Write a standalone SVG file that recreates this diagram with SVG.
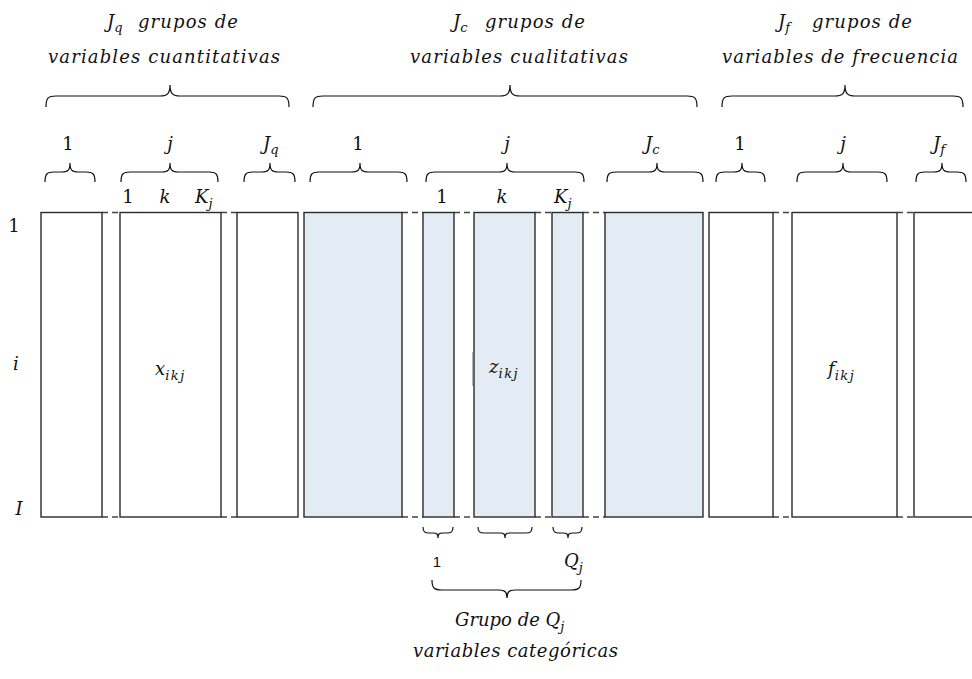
<svg xmlns="http://www.w3.org/2000/svg" width="972" height="679" viewBox="0 0 972 679">
  <style>
    .m { font-family: "DejaVu Serif", "Liberation Serif", serif; font-style: italic; font-size: 18px; fill: #111; }
    .n { font-family: "DejaVu Serif", "Liberation Serif", serif; font-size: 18px; fill: #111; }
    .sub { font-size: 13px; }
    .idx { font-size: 13px; letter-spacing: 1.5px; }
    .sans { font-family: "Liberation Sans", Arial, sans-serif; font-size: 15px; fill: #111; }
    .col { stroke: #2a2a2a; stroke-width: 1.4; }
    .w { fill: #ffffff; }
    .b { fill: #e3ebf4; }
    .gap { stroke: #444; stroke-width: 1.4; stroke-dasharray: 6 4; fill: none; }
    .brace { fill: none; stroke: #111; stroke-width: 1.2; }
  </style>

  <!-- column titles -->
  <g id="title-quant">
    <text class="m" x="107" y="28">J<tspan class="sub" dy="4">q</tspan></text>
    <text class="m" x="138" y="28" textLength="100">grupos de</text>
    <text class="m" x="48" y="63" textLength="232">variables cuantitativas</text>
  </g>
  <g id="title-qual">
    <text class="m" x="453" y="28">J<tspan class="sub" dy="4">c</tspan></text>
    <text class="m" x="485" y="28" textLength="100">grupos de</text>
    <text class="m" x="410" y="63" textLength="218">variables cualitativas</text>
  </g>
  <g id="title-freq">
    <text class="m" x="778" y="28">J<tspan class="sub" dy="4">f</tspan></text>
    <text class="m" x="812" y="28" textLength="100">grupos de</text>
    <text class="m" x="722" y="63" textLength="236">variables de frecuencia</text>
  </g>

  <!-- row labels -->
  <g id="rows">
    <text class="n" x="14" y="232" text-anchor="middle">1</text>
    <text class="m" x="16" y="370" text-anchor="middle">i</text>
    <text class="m" x="19" y="515" text-anchor="middle">I</text>
  </g>

  <!-- braces -->
  <g id="braces">
    <!-- group braces -->
    <path class="brace" d="M46,107 C46,98 48,96 56,96 H160 C167,96 170,94 170,85 C170,94 173,96 180,96 H279 C287,96 289,98 289,107"/>
    <path class="brace" d="M313,107 C313,98 315,96 323,96 H500 C507,96 510,94 510,85 C510,94 513,96 520,96 H687 C695,96 697,98 697,107"/>
    <path class="brace" d="M722,107 C722,98 724,96 732,96 H835 C842,96 845,94 845,85 C845,94 848,96 855,96 H953 C961,96 963,98 963,107"/>
    <!-- per-group braces -->
    <path class="brace" d="M45,182 C45,174 47,172 54,172 H62 C68,172 70,170 70,163 C70,170 72,172 78,172 H86 C93,172 95,174 95,182"/>
    <path class="brace" d="M121,182 C121,174 123,172 130,172 H162 C168,172 170,170 170,163 C170,170 172,172 178,172 H209 C216,172 218,174 218,182"/>
    <path class="brace" d="M244,182 C244,174 246,172 253,172 H262 C268,172 270,170 270,163 C270,170 272,172 278,172 H286 C293,172 295,174 295,182"/>
    <path class="brace" d="M310,182 C310,174 312,172 319,172 H352 C358,172 360,170 360,163 C360,170 362,172 368,172 H398 C405,172 407,174 407,182"/>
    <path class="brace" d="M426,182 C426,174 428,172 435,172 H499 C505,172 507,170 507,163 C507,170 509,172 515,172 H575 C582,172 584,174 584,182"/>
    <path class="brace" d="M607,182 C607,174 609,172 616,172 H649 C655,172 657,170 657,163 C657,170 659,172 665,172 H694 C701,172 703,174 703,182"/>
    <path class="brace" d="M716,182 C716,174 718,172 725,172 H734 C740,172 742,170 742,163 C742,170 744,172 750,172 H756 C763,172 765,174 765,182"/>
    <path class="brace" d="M797,182 C797,174 799,172 806,172 H835 C841,172 843,170 843,163 C843,170 845,172 851,172 H878 C885,172 887,174 887,182"/>
    <path class="brace" d="M916,182 C916,174 918,172 925,172 H934 C940,172 942,170 942,163 C942,170 944,172 950,172 H957 C964,172 966,174 966,182"/>
    <!-- category braces -->
    <path class="brace" d="M423,527 C423,532 425,533 429,533 H433 C437,533 438,534 438,538 C438,534 439,533 443,533 H447 C451,533 453,532 453,527"/>
    <path class="brace" d="M478,527 C478,532 480,533 484,533 H500 C504,533 505,534 505,538 C505,534 506,533 510,533 H526 C530,533 532,532 532,527"/>
    <path class="brace" d="M553,527 C553,532 555,533 559,533 H563 C567,533 568,534 568,538 C568,534 569,533 573,533 H576 C580,533 582,532 582,527"/>
    <path class="brace" d="M432,580 C432,588 434,590 442,590 H499 C505,590 507,592 507,598 C507,592 509,590 515,590 H571 C579,590 581,588 581,580"/>
  </g>

  <!-- brace labels -->
  <g id="brace-labels">
    <text class="n" x="68" y="150" text-anchor="middle">1</text>
    <text class="m" x="170" y="150" text-anchor="middle">j</text>
    <text class="m" x="263" y="150">J<tspan class="sub" dy="4">q</tspan></text>
    <text class="n" x="358" y="150" text-anchor="middle">1</text>
    <text class="m" x="507" y="150" text-anchor="middle">j</text>
    <text class="m" x="645" y="150">J<tspan class="sub" dy="4">c</tspan></text>
    <text class="n" x="740" y="150" text-anchor="middle">1</text>
    <text class="m" x="843" y="150" text-anchor="middle">j</text>
    <text class="m" x="933" y="150">J<tspan class="sub" dy="4">f</tspan></text>

    <text class="n" x="128" y="203" text-anchor="middle">1</text>
    <text class="m" x="165" y="203" text-anchor="middle">k</text>
    <text class="m" x="195" y="203">K<tspan class="sub" dy="5">j</tspan></text>
    <text class="n" x="442" y="203" text-anchor="middle">1</text>
    <text class="m" x="502" y="203" text-anchor="middle">k</text>
    <text class="m" x="554" y="203">K<tspan class="sub" dy="5">j</tspan></text>

    <text class="sans" x="437" y="567" text-anchor="middle">1</text>
    <text class="m" x="564" y="567">Q<tspan class="sub" dy="5">j</tspan></text>
    <text class="m" x="455" y="626">Grupo de Q<tspan class="sub" dy="5">j</tspan></text>
    <text class="m" x="413" y="657" textLength="205">variables categóricas</text>
  </g>

  <!-- dashed links across the omitted columns -->
  <g id="connectors">
    <path class="gap" d="M102,212.5 H120 M102,517 H120 M221,212.5 H237 M221,517 H237"/>
    <path class="gap" d="M402,212.5 H423 M402,517 H423 M454,212.5 H474 M454,517 H474 M535,212.5 H552 M535,517 H552 M583,212.5 H605 M583,517 H605"/>
    <path class="gap" d="M773,212.5 H792 M773,517 H792 M897,212.5 H914 M897,517 H914"/>
  </g>

  <!-- quantitative columns -->
  <g id="quant-1"><rect class="col w" x="41" y="212.5" width="61" height="304.5"/></g>
  <g id="quant-j">
    <rect class="col w" x="120" y="212.5" width="101" height="304.5"/>
    <text class="m" x="155" y="375">x<tspan class="idx" dy="5">ikj</tspan></text>
  </g>
  <g id="quant-Jq"><rect class="col w" x="237" y="212.5" width="61" height="304.5"/></g>

  <!-- qualitative columns -->
  <g id="qual-1"><rect class="col b" x="304" y="212.5" width="98" height="304.5"/></g>
  <g id="qual-j-1"><rect class="col b" x="423" y="212.5" width="31" height="304.5"/></g>
  <g id="qual-j-k">
    <rect class="col b" x="474" y="212.5" width="61" height="304.5"/>
    <line x1="473.3" y1="352" x2="473.3" y2="386" stroke="#666" stroke-width="1.6"/>
    <text class="m" x="489" y="373">z<tspan class="idx" dy="5">ikj</tspan></text>
  </g>
  <g id="qual-j-Kj"><rect class="col b" x="552" y="212.5" width="31" height="304.5"/></g>
  <g id="qual-Jc"><rect class="col b" x="605" y="212.5" width="98" height="304.5"/></g>

  <!-- frequency columns -->
  <g id="freq-1"><rect class="col w" x="709" y="212.5" width="64" height="304.5"/></g>
  <g id="freq-j">
    <rect class="col w" x="792" y="212.5" width="105" height="304.5"/>
    <text class="m" x="828" y="375">f<tspan class="idx" dy="5">ikj</tspan></text>
  </g>
  <g id="freq-Jf"><rect class="col w" x="914" y="212.5" width="80" height="304.5"/></g>
</svg>
